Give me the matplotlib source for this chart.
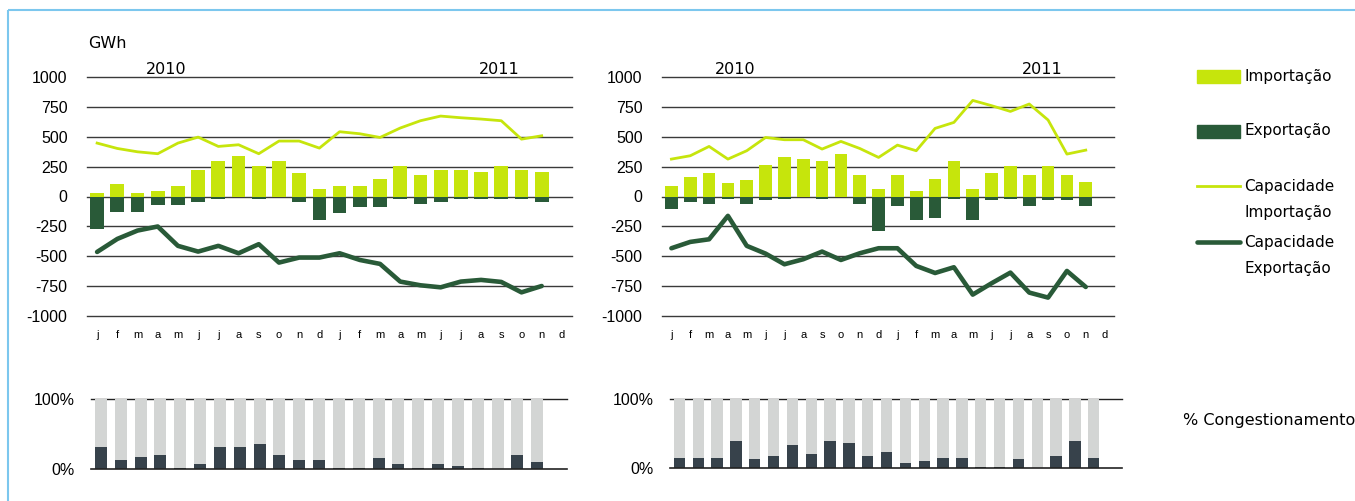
import matplotlib
matplotlib.use('Agg')
import matplotlib.pyplot as plt
from matplotlib.patches import Rectangle
import numpy as np

# Monthly data, jan 2010 .. nov 2011 (23 months), GWh
months = ['j', 'f', 'm', 'a', 'm', 'j', 'j', 'a', 's', 'o', 'n', 'd'] * 2

left_import = [28, 106, 28, 47, 89, 223, 299, 341, 257, 299, 198, 64,
               89, 89, 148, 257, 182, 223, 223, 207, 257, 223, 207]
left_export = [-268, -126, -126, -75, -75, -50, -17, -5, -17, 0, -50, -193,
               -134, -92, -92, -17, -59, -50, -17, -17, -17, -17, -50]
left_cap_import = [447, 402, 374, 358, 447, 497, 419, 433, 358, 464, 464, 405,
                   542, 525, 494, 573, 634, 673, 659, 648, 634, 480, 508]
left_cap_export = [-464, -355, -285, -251, -413, -461, -413, -475, -399, -553, -511, -511,
                   -475, -531, -564, -712, -743, -760, -712, -698, -715, -802, -749]
left_congestion = [32, 13, 17, 20, 2, 8, 32, 32, 36, 20, 13, 13,
                   2, 2, 16, 8, 2, 8, 5, 2, 0, 20, 10]

right_import = [87, 162, 196, 117, 137, 263, 330, 313, 296, 355, 179, 61,
                179, 45, 145, 296, 61, 196, 254, 179, 254, 179, 120]
right_export = [-103, -45, -61, -20, -61, -28, -20, 0, -20, 0, -61, -288,
                -78, -196, -179, -20, -196, -28, -20, -78, -28, -28, -78]
right_cap_import = [313, 341, 419, 313, 383, 494, 475, 475, 397, 461, 402, 327,
                    430, 383, 570, 620, 804, 760, 712, 774, 640, 355, 388]
right_cap_export = [-433, -380, -358, -162, -413, -478, -567, -525, -461, -531, -475, -433,
                    -433, -581, -640, -592, -821, -726, -637, -804, -846, -623, -757]
right_congestion = [14, 14, 14, 39, 13, 17, 33, 20, 39, 36, 17, 23,
                    7, 10, 14, 14, 1, 1, 13, 0, 17, 39, 14]

LIME = '#C6E50C'
DARK_GREEN = '#295A38'
CONG_DARK = '#37424B'
CONG_LIGHT = '#D3D5D4'
W, H = 1355, 501

fig = plt.figure(figsize=(W / 100, H / 100), dpi=100)


def px_axes(x0, y0, x1, y1):
    # pixel box (top-left origin) -> figure axes
    return fig.add_axes([x0 / W, 1 - y1 / H, (x1 - x0) / W, (y1 - y0) / H])


def draw_top(ax, imp, exp, cap_imp, cap_exp, year_pos):
    x = np.arange(len(imp))
    for yv in range(-1000, 1001, 250):
        ax.axhline(yv, color='#3a3a3a', lw=1.0, zorder=0, clip_on=False)
    ax.bar(x, imp, width=0.68, color=LIME, zorder=2)
    ax.bar(x, exp, width=0.68, color=DARK_GREEN, zorder=2)
    ax.plot(x, cap_imp, color=LIME, lw=2.0, zorder=3)
    ax.plot(x, cap_exp, color=DARK_GREEN, lw=3.3, zorder=3, solid_capstyle='round')
    ax.set_xlim(-0.5, 23.5)
    ax.set_ylim(-1000, 1000)
    ax.set_yticks(range(-1000, 1001, 250))
    ax.set_yticklabels([str(v) for v in range(-1000, 1001, 250)],
                       fontsize=11.5, family='Liberation Sans')
    ax.set_xticks(range(24))
    ax.set_xticklabels(months, fontsize=8, family='Liberation Sans')
    ax.tick_params(length=0, axis='y', pad=14)
    ax.tick_params(length=0, axis='x', pad=10)
    for s in ax.spines.values():
        s.set_visible(False)
    ax.text(year_pos[0], 1000, '2010', fontsize=11.5, ha='center', va='bottom')
    ax.text(year_pos[1], 1000, '2011', fontsize=11.5, ha='center', va='bottom')


def draw_bottom(ax, cong):
    x = np.arange(len(cong))
    c = np.array(cong) / 100.0
    ax.bar(x, np.ones(len(c)), width=0.6, color=CONG_LIGHT, zorder=1)
    ax.bar(x, c, width=0.6, color=CONG_DARK, zorder=2)
    ax.axhline(1, color='#222222', lw=1.0, zorder=0, clip_on=False)
    ax.axhline(0, color='#222222', lw=1.2, zorder=3, clip_on=False)
    ax.set_xlim(-0.5, 23.5)
    ax.set_ylim(0, 1)
    ax.set_xticks([])
    ax.set_yticks([0, 1])
    ax.set_yticklabels(['0%', '100%'], fontsize=11.5, family='Liberation Sans')
    ax.tick_params(length=0, pad=12)
    for s in ax.spines.values():
        s.set_visible(False)


ax1 = px_axes(87, 77, 572, 316)
draw_top(ax1, left_import, left_export, left_cap_import, left_cap_export, (3.4, 19.9))
fig.text(88 / W, 1 - 44 / H, 'GWh', fontsize=11.5, va='center', ha='left')

ax2 = px_axes(662, 77, 1114, 316)
draw_top(ax2, right_import, right_export, right_cap_import, right_cap_export, (3.4, 19.7))

ax3 = px_axes(91, 399.3, 567, 469.3)
draw_bottom(ax3, left_congestion)

ax4 = px_axes(670, 399.3, 1122, 467.7)
draw_bottom(ax4, right_congestion)

# legend drawn by hand
lg = fig.add_axes([0, 0, 1, 1], zorder=-1)
lg.set_xlim(0, W)
lg.set_ylim(H, 0)
lg.axis('off')
lg.add_patch(Rectangle((1197, 70), 43, 13, color=LIME))
lg.add_patch(Rectangle((1197, 125), 43, 13, color=DARK_GREEN))
lg.plot([1197, 1240], [186, 186], color=LIME, lw=2.0)
lg.plot([1197, 1240], [242, 242], color=DARK_GREEN, lw=3.3, solid_capstyle='round')
lg.text(1244, 76, 'Importação', fontsize=11, va='center')
lg.text(1244, 131, 'Exportação', fontsize=11, va='center')
lg.text(1244, 186, 'Capacidade', fontsize=11, va='center')
lg.text(1244, 212, 'Importação', fontsize=11, va='center')
lg.text(1244, 243, 'Capacidade', fontsize=11, va='center')
lg.text(1244, 268, 'Exportação', fontsize=11, va='center')
lg.text(1183, 421, '% Congestionamento', fontsize=11.5, va='center')
lg.add_patch(Rectangle((7.5, 9.5), 1350, 500, fill=False, edgecolor='#7CC7EE', lw=1.5))

fig.savefig('out.png', dpi=100)
